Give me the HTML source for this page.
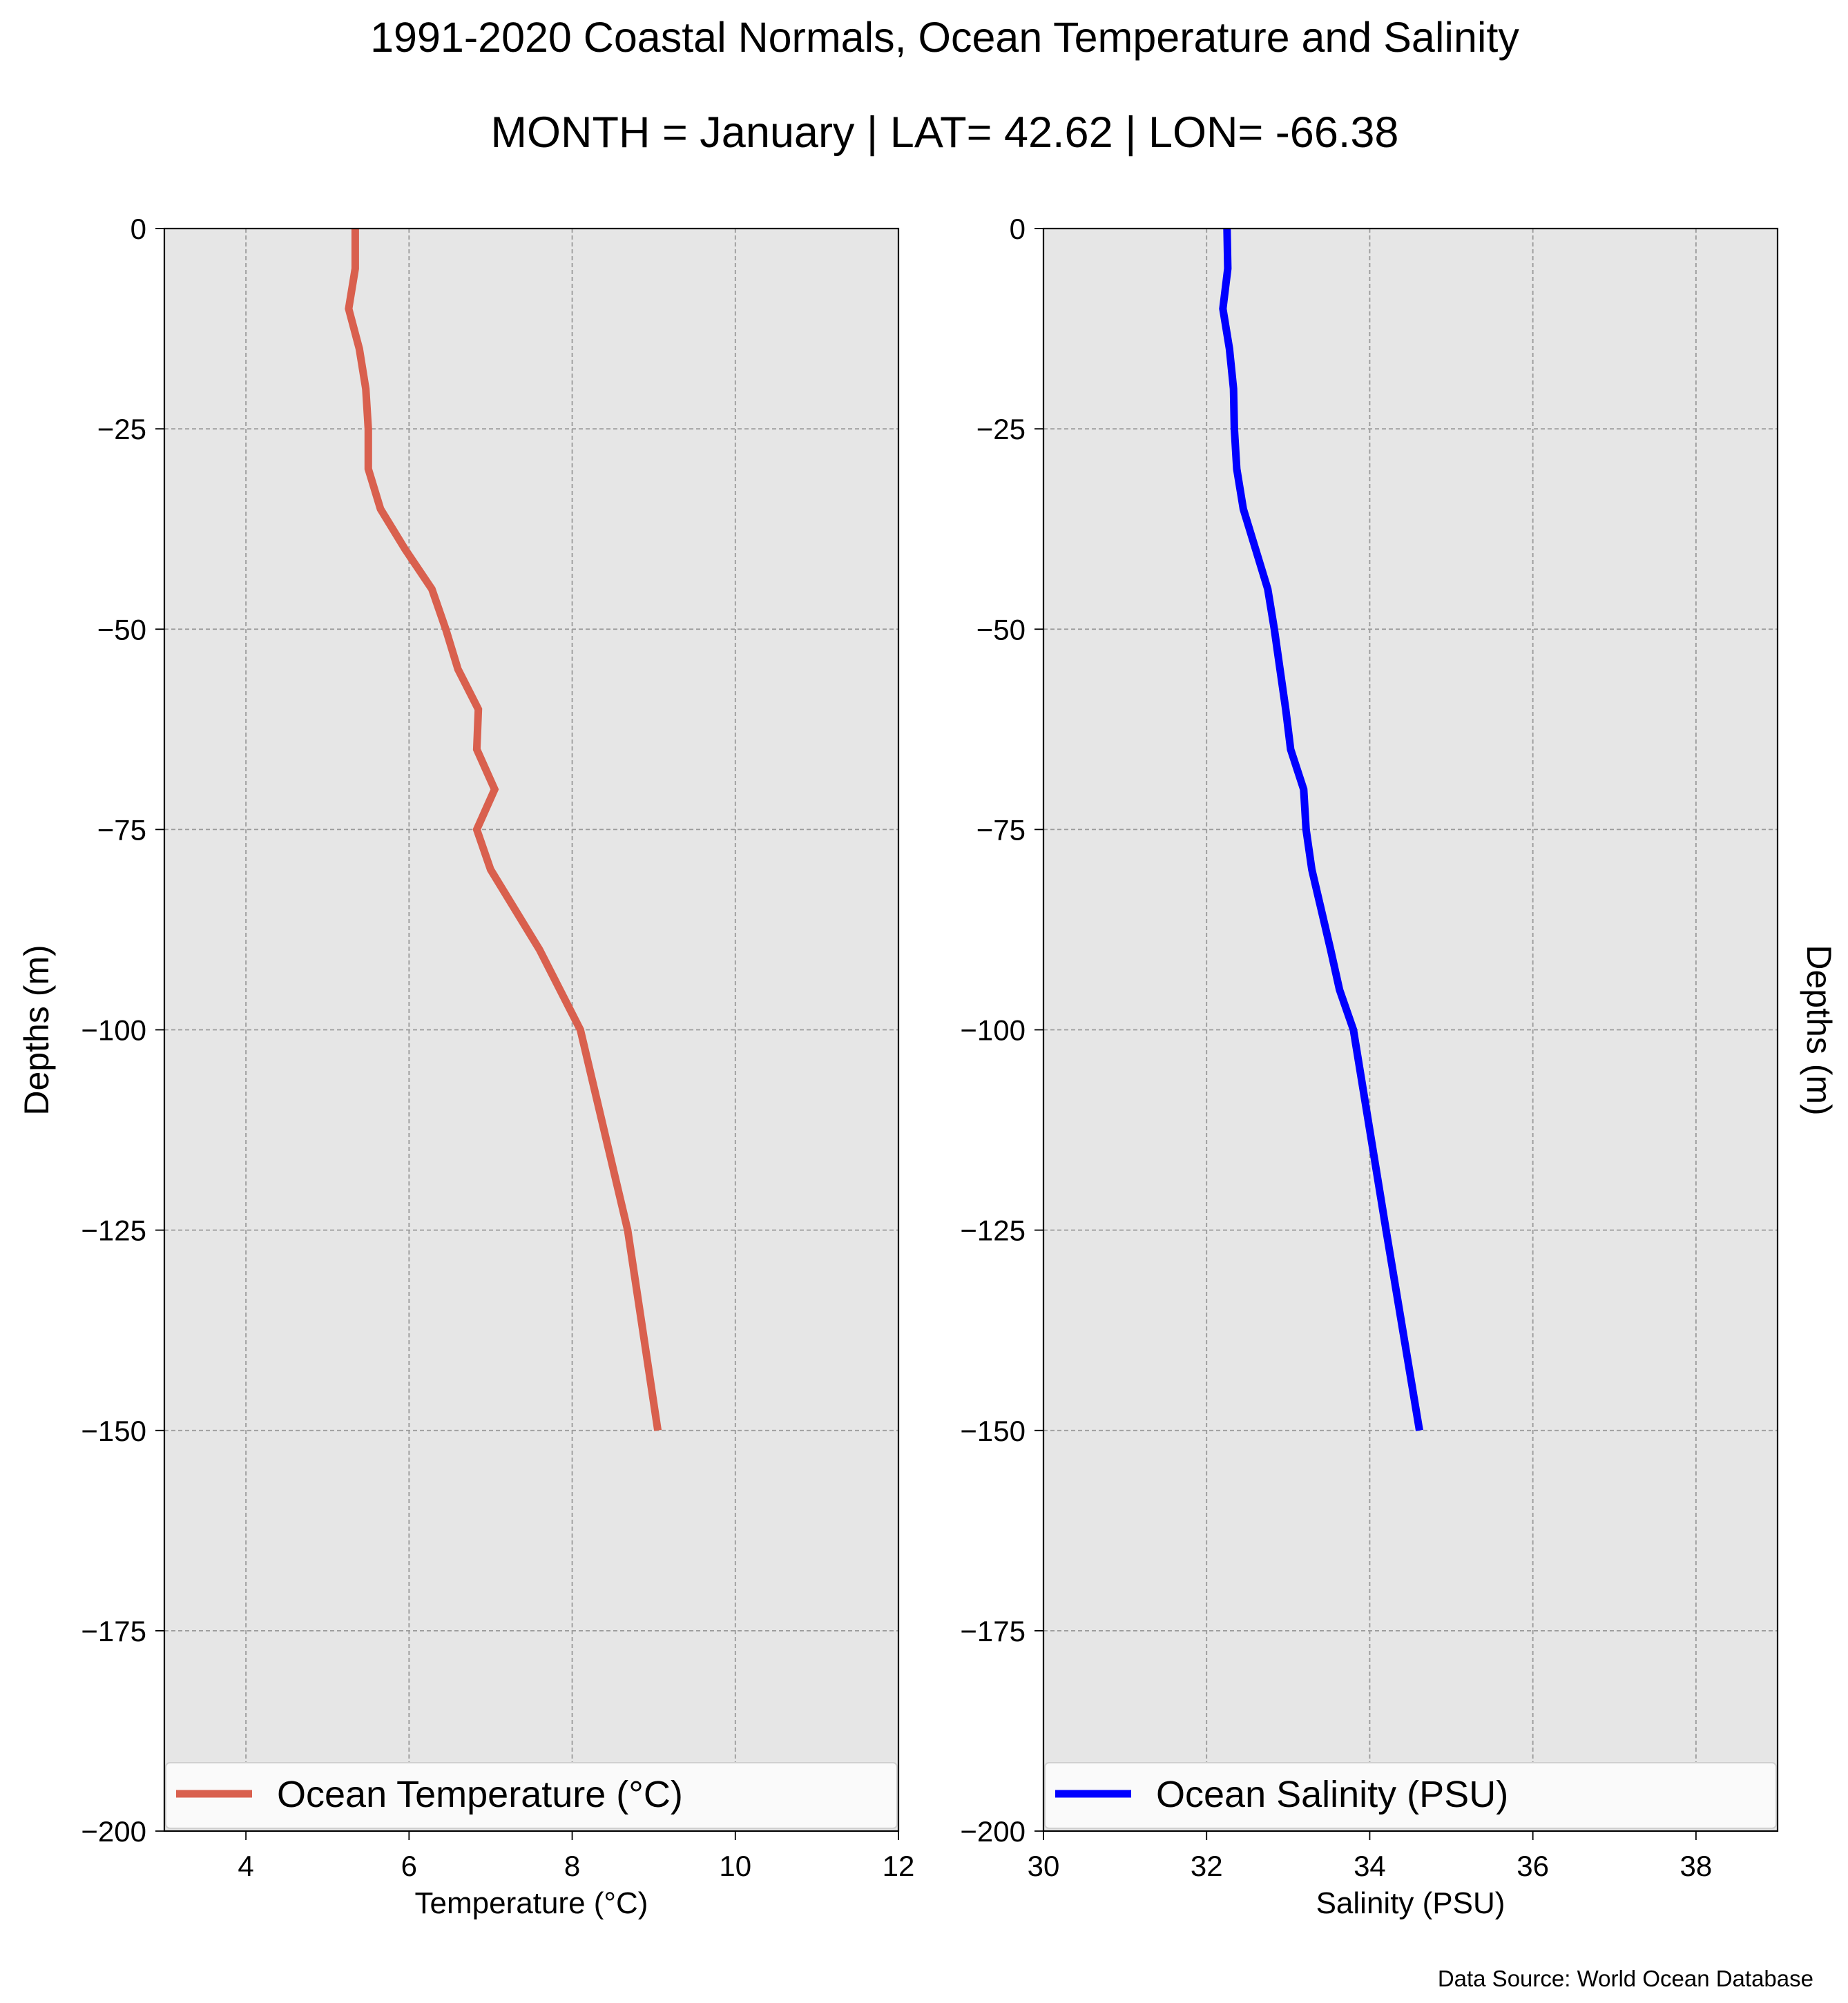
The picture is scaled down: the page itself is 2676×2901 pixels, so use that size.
<!DOCTYPE html>
<html><head><meta charset="utf-8"><style>
body{margin:0;background:#fff}
svg{display:block;font-family:"Liberation Sans","DejaVu Sans",sans-serif}
</style></head><body>
<svg id="fig" width="2676" height="2901" viewBox="0 0 2676 2901" xmlns="http://www.w3.org/2000/svg">
<rect width="2676" height="2901" fill="#fff"/>
<text x="1368" y="75" font-size="61" text-anchor="middle">1991-2020 Coastal Normals, Ocean Temperature and Salinity</text>
<text x="1368" y="213" font-size="63" text-anchor="middle">MONTH = January | LAT= 42.62 | LON= -66.38</text>
<g id="left"></g>
<g id="right"></g>
<text x="2626" y="2877" font-size="33" text-anchor="end">Data Source: World Ocean Database</text>
</svg>
<script>
const depths = [0,-5,-10,-15,-20,-25,-30,-35,-40,-45,-50,-55,-60,-65,-70,-75,-80,-90,-100,-125,-150];
const temperature = [5.34,5.34,5.26,5.39,5.47,5.50,5.50,5.65,5.95,6.28,6.45,6.60,6.85,6.83,7.05,6.83,7.00,7.60,8.10,8.68,9.05];
const salinityDepths = [0,-5,-10,-15,-20,-25,-30,-35,-40,-45,-50,-55,-60,-65,-70,-75,-80,-90,-95,-100,-125,-150];
const salinity = [32.25,32.26,32.20,32.28,32.33,32.34,32.37,32.45,32.60,32.75,32.83,32.90,32.97,33.03,33.19,33.22,33.29,33.52,33.63,33.80,34.20,34.61];
const yTicks = [0,-25,-50,-75,-100,-125,-150,-175,-200];
const tempTicks = [4,6,8,10,12];
const salTicks = [30,32,34,36,38];

const NS='http://www.w3.org/2000/svg';
function mk(tag, attrs, parent){const e=document.createElementNS(NS,tag);for(const k in attrs)e.setAttribute(k,attrs[k]);parent.appendChild(e);return e;}
const plotTop=331, plotBot=2652;
function yScale(d){return plotTop+(0-d)/200*(plotBot-plotTop);}

function panel(g, x0, x1, xmin, xmax, xticks, xs, ys, color, legendText, xlabel, ylabelSide){
  const xS=v=>x0+(v-xmin)/(xmax-xmin)*(x1-x0);
  const bg=mk('rect',{x:x0,y:plotTop,width:x1-x0,height:plotBot-plotTop,fill:'#e6e6e6'},g);
  
  
  xticks.forEach(t=>{
    const gl=mk('line',{x1:xS(t),x2:xS(t),y1:plotTop,y2:plotBot,stroke:'#9a9a9a','stroke-width':1.8,'stroke-dasharray':'6,4'},g);
    
    
    mk('line',{x1:xS(t),x2:xS(t),y1:plotBot,y2:plotBot+13,stroke:'#000','stroke-width':1.8},g);
    const tl=mk('text',{x:xS(t),y:2717,'font-size':42,'text-anchor':'middle'},g);
    tl.textContent=t;
    
    
  });
  yTicks.forEach(t=>{
    const gl=mk('line',{x1:x0,x2:x1,y1:yScale(t),y2:yScale(t),stroke:'#9a9a9a','stroke-width':1.8,'stroke-dasharray':'6,4'},g);
    
    
    mk('line',{x1:x0-13,x2:x0,y1:yScale(t),y2:yScale(t),stroke:'#000','stroke-width':1.8},g);
    const tl=mk('text',{x:x0-26,y:yScale(t)+15,'font-size':42,'text-anchor':'end'},g);
    tl.textContent=t<0?'\u2212'+(-t):t;
    
    
  });
  const pts=xs.map((v,i)=>xS(v).toFixed(1)+','+yScale(ys[i]).toFixed(1)).join(' ');
  const ln=mk('polyline',{points:pts,fill:'none',stroke:color,'stroke-width':11,'stroke-linejoin':'miter'},g);
  
  
  const lg=mk('g',{},g);
  
  
  mk('rect',{x:x0+2,y:2553,width:x1-x0-4,height:95,fill:'#fafafa',stroke:'#d0d0d0','stroke-width':2,rx:6},lg);
  mk('line',{x1:x0+17,x2:x0+127,y1:2598,y2:2598,stroke:color,'stroke-width':11},lg);
  const lt=mk('text',{x:x0+163,y:2617,'font-size':54},lg);
  lt.textContent=legendText;
  
  
  mk('rect',{x:x0,y:plotTop,width:x1-x0,height:plotBot-plotTop,fill:'none',stroke:'#000','stroke-width':2.2},g);
  const xl=mk('text',{x:(x0+x1)/2,y:2771,'font-size':44,'text-anchor':'middle'},g);
  xl.textContent=xlabel;
  
  
  const yl=mk('text',{'font-size':50,'text-anchor':'middle'},g);
  yl.textContent='Depths (m)';
  if(ylabelSide==='left'){yl.setAttribute('transform','translate(70,1492) rotate(-90)');}
  else{yl.setAttribute('transform','translate(2617,1492) rotate(90)');}
  
  
}
panel(document.getElementById('left'),238,1301,3,12,tempTicks,temperature,depths,'#d9604e','Ocean Temperature (\u00B0C)','Temperature (\u00B0C)','left');
panel(document.getElementById('right'),1511,2574,30,39,salTicks,salinity,salinityDepths,'#0000ff','Ocean Salinity (PSU)','Salinity (PSU)','right');
</script>
</body></html>
